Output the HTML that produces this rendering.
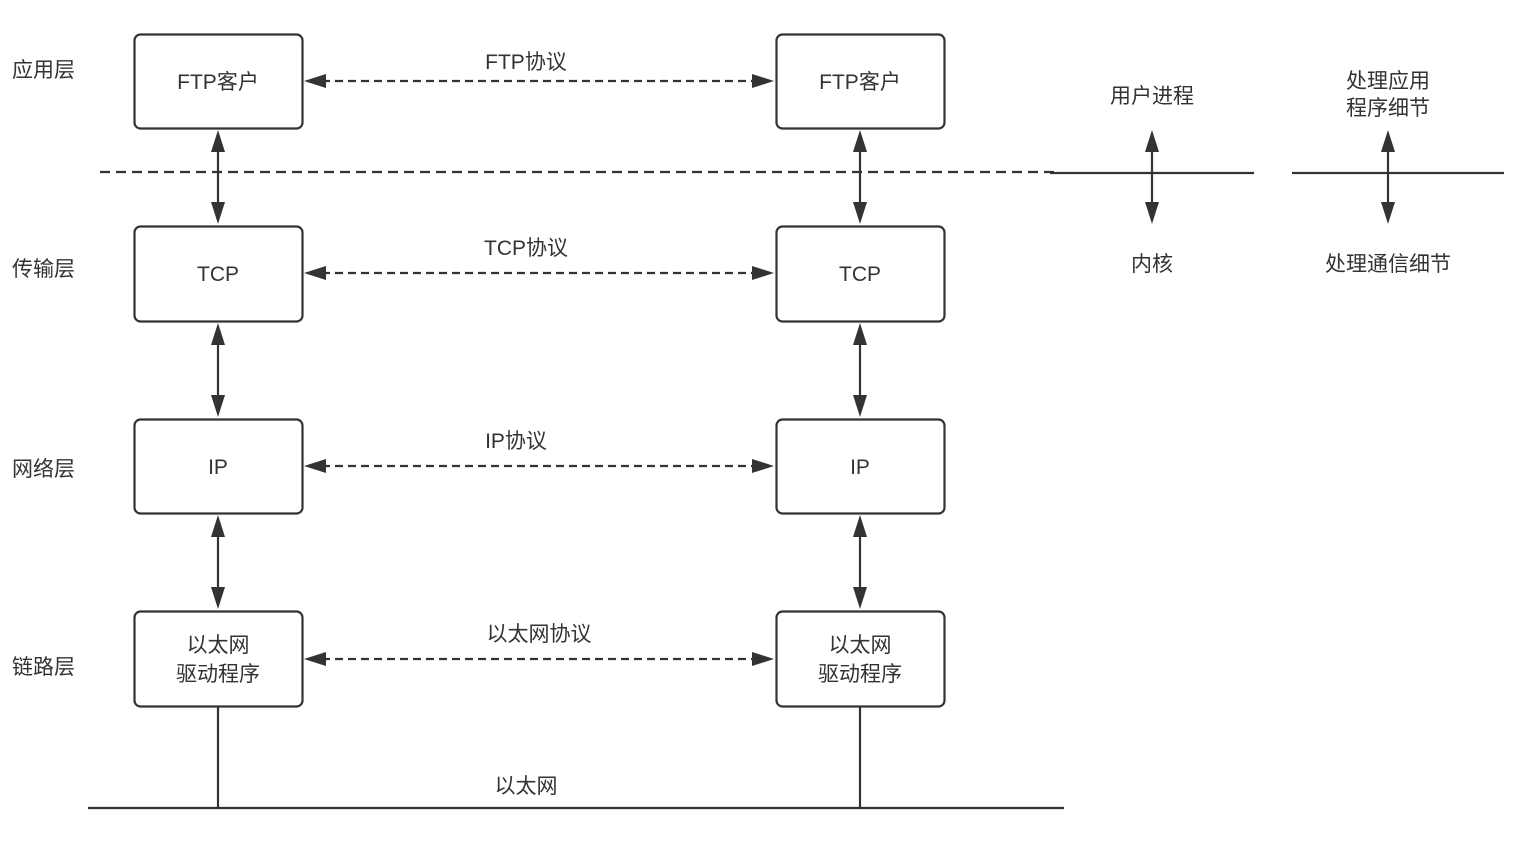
<!DOCTYPE html>
<html><head><meta charset="utf-8"><style>
html,body{margin:0;padding:0;background:#fff;}
svg text{font-family:"Liberation Sans","Noto Sans CJK SC",sans-serif;font-size:21px;fill:#333;}
</style></head><body>
<svg width="1522" height="836" viewBox="0 0 1522 836" xmlns="http://www.w3.org/2000/svg">
<g fill="#fff" stroke="#333" stroke-width="2.2">
<rect x="134.5" y="34.5" width="168" height="94" rx="6"/>
<rect x="776.5" y="34.5" width="168" height="94" rx="6"/>
<rect x="134.5" y="226.5" width="168" height="95" rx="6"/>
<rect x="776.5" y="226.5" width="168" height="95" rx="6"/>
<rect x="134.5" y="419.5" width="168" height="94" rx="6"/>
<rect x="776.5" y="419.5" width="168" height="94" rx="6"/>
<rect x="134.5" y="611.5" width="168" height="95" rx="6"/>
<rect x="776.5" y="611.5" width="168" height="95" rx="6"/>
</g>
<g stroke="#333" stroke-width="2.2" fill="none">
<line x1="100" y1="172" x2="1060" y2="172" stroke-dasharray="10,6"/>
<line x1="1050" y1="173" x2="1254" y2="173"/>
<line x1="1292" y1="173" x2="1504" y2="173"/>
<line x1="88" y1="808" x2="1064" y2="808"/>
<line x1="218" y1="707" x2="218" y2="808"/>
<line x1="860" y1="707" x2="860" y2="808"/>
<g stroke-dasharray="8,5">
<line x1="322" y1="81" x2="756" y2="81"/>
<line x1="322" y1="273" x2="756" y2="273"/>
<line x1="322" y1="466" x2="756" y2="466"/>
<line x1="322" y1="659" x2="756" y2="659"/>
</g>
<line x1="218" y1="148" x2="218" y2="206"/>
<line x1="860" y1="148" x2="860" y2="206"/>
<line x1="218" y1="341" x2="218" y2="399"/>
<line x1="860" y1="341" x2="860" y2="399"/>
<line x1="218" y1="533" x2="218" y2="591"/>
<line x1="860" y1="533" x2="860" y2="591"/>
<line x1="1152" y1="150" x2="1152" y2="204"/>
<line x1="1388" y1="150" x2="1388" y2="204"/>
</g>
<g fill="#333">
<!-- horizontal heads -->
<polygon points="304,81 326,74 326,88"/><polygon points="774,81 752,74 752,88"/>
<polygon points="304,273 326,266 326,280"/><polygon points="774,273 752,266 752,280"/>
<polygon points="304,466 326,459 326,473"/><polygon points="774,466 752,459 752,473"/>
<polygon points="304,659 326,652 326,666"/><polygon points="774,659 752,652 752,666"/>
<!-- vertical heads -->
<polygon points="218,130 211,152 225,152"/><polygon points="218,224 211,202 225,202"/>
<polygon points="860,130 853,152 867,152"/><polygon points="860,224 853,202 867,202"/>
<polygon points="218,323 211,345 225,345"/><polygon points="218,417 211,395 225,395"/>
<polygon points="860,323 853,345 867,345"/><polygon points="860,417 853,395 867,395"/>
<polygon points="218,515 211,537 225,537"/><polygon points="218,609 211,587 225,587"/>
<polygon points="860,515 853,537 867,537"/><polygon points="860,609 853,587 867,587"/>
<polygon points="1152,130 1145,152 1159,152"/><polygon points="1152,224 1145,202 1159,202"/>
<polygon points="1388,130 1381,152 1395,152"/><polygon points="1388,224 1381,202 1395,202"/>
</g>
<g text-anchor="middle">
<text x="218" y="89">FTP客户</text><text x="860" y="89">FTP客户</text>
<text x="218" y="281">TCP</text><text x="860" y="281">TCP</text>
<text x="218" y="474">IP</text><text x="860" y="474">IP</text>
<text x="218" y="652">以太网</text><text x="218" y="681">驱动程序</text>
<text x="860" y="652">以太网</text><text x="860" y="681">驱动程序</text>
<text x="526" y="69">FTP协议</text>
<text x="526" y="255">TCP协议</text>
<text x="516" y="448">IP协议</text>
<text x="539" y="641">以太网协议</text>
<text x="526" y="793">以太网</text>
<text x="1152" y="103">用户进程</text>
<text x="1152" y="271">内核</text>
<text x="1388" y="88">处理应用</text>
<text x="1388" y="115">程序细节</text>
<text x="1388" y="271">处理通信细节</text>
</g>
<g>
<text x="12" y="77">应用层</text>
<text x="12" y="276">传输层</text>
<text x="12" y="476">网络层</text>
<text x="12" y="674">链路层</text>
</g>
</svg>
</body></html>
